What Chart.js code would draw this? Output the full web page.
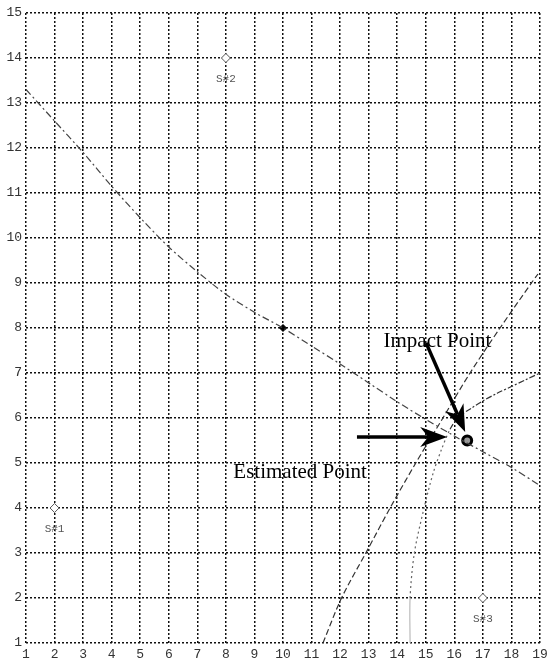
<!DOCTYPE html>
<html>
<head>
<meta charset="utf-8">
<script src="https://cdn.jsdelivr.net/npm/chart.js@4.4.1/dist/chart.umd.min.js"></script>
<style>
  html, body { margin: 0; padding: 0; background: #fff; }
</style>
</head>
<body>
<canvas id="myChart" width="552" height="664"></canvas>
<script>
// axis ranges / ticks
const xTicks = [1, 19];
const yTicks = [1, 15];

// hyperbola around sensor 2 (upper curve)
const hypTwoX = [1, 2, 3, 4, 5, 6, 7, 8, 9, 10, 11, 12, 13, 14, 15, 16, 17, 18, 19];
const hypTwoY = [13.3, 12.6, 11.9, 11.15, 10.45, 9.8, 9.25, 8.75, 8.35, 8.0, 7.6, 7.2, 6.78, 6.36, 5.97, 5.6, 5.25, 4.9, 4.5];

// steep curve from the bottom (sensor 1 side)
const hypOneX = [11.4, 12.05, 12.9, 13.75, 14.65, 15.6, 16.55, 17.6, 18.7, 18.93];
const hypOneY = [1, 2, 3, 4, 5, 6, 7, 8, 9, 9.2];

// hyperbola around sensor 3
const hypThreeX = [14.45, 14.45, 14.6, 14.94, 15.26, 15.55, 15.85, 16.15, 16.6, 17, 17.5, 18, 18.5, 19];
const hypThreeY = [1, 2, 3, 4, 4.78, 5.3, 5.75, 6.02, 6.22, 6.38, 6.55, 6.7, 6.85, 7.0];

// sensors
const sensorNames = ['S#1', 'S#2', 'S#3'];
const sensorX = [2, 8, 17];
const sensorY = [4, 14, 2];

// reference point and impact point
const refX = [10];
const refY = [8];
const impactX = [16.45];
const impactY = [5.5];

// annotations (data units)
const impactText = 'Impact Point';
const impactTextPos = [15.41, 7.71];
const impactArrow = [[15.01, 7.67], [16.38, 5.69]];
const estText = 'Estimated Point';
const estTextPos = [10.6, 4.8];
const estArrow = [[12.59, 5.58], [15.75, 5.58]];

const pts = (xs, ys) => xs.map((v, i) => ({x: v, y: ys[i]}));

function drawArrow(ctx, x0, y0, x1, y1) {
  const ang = Math.atan2(y1 - y0, x1 - x0);
  const len = 27, half = 10, notch = 8;
  const cos = Math.cos(ang), sin = Math.sin(ang);
  const bx = x1 - cos * len, by = y1 - sin * len;
  ctx.beginPath();
  ctx.moveTo(x0, y0);
  ctx.lineTo(x1 - cos * (len - notch), y1 - sin * (len - notch));
  ctx.lineWidth = 3.5;
  ctx.strokeStyle = '#000';
  ctx.stroke();
  ctx.beginPath();
  ctx.moveTo(x1, y1);
  ctx.lineTo(bx - sin * half, by + cos * half);
  ctx.lineTo(x1 - cos * (len - notch), y1 - sin * (len - notch));
  ctx.lineTo(bx + sin * half, by - cos * half);
  ctx.closePath();
  ctx.fillStyle = '#000';
  ctx.fill();
}

const annotate = {
  id: 'annotate',
  afterDatasetsDraw(chart) {
    const {ctx, scales: {x, y}} = chart;
    ctx.save();
    // sensor labels
    ctx.font = '11px "Liberation Mono"';
    ctx.fillStyle = '#555';
    ctx.textAlign = 'center';
    ctx.textBaseline = 'middle';
    sensorNames.forEach((n, i) => {
      ctx.fillText(n, x.getPixelForValue(sensorX[i]), y.getPixelForValue(sensorY[i]) + 21);
    });
    // arrows
    [impactArrow, estArrow].forEach(a => {
      drawArrow(ctx, x.getPixelForValue(a[0][0]), y.getPixelForValue(a[0][1]),
                     x.getPixelForValue(a[1][0]), y.getPixelForValue(a[1][1]));
    });
    // texts
    ctx.font = '21px "Liberation Serif"';
    ctx.fillStyle = '#000';
    ctx.fillText(impactText, x.getPixelForValue(impactTextPos[0]), y.getPixelForValue(impactTextPos[1]));
    ctx.fillText(estText, x.getPixelForValue(estTextPos[0]), y.getPixelForValue(estTextPos[1]));
    ctx.restore();
  }
};

const ctx = document.getElementById('myChart').getContext('2d');

const myChart = new Chart(ctx, {
  type: 'scatter',
  data: {
    datasets: [
      {
        data: pts(hypTwoX, hypTwoY),
        showLine: true,
        borderColor: '#444',
        borderWidth: 1.2,
        borderDash: [7, 3, 2, 3],
        tension: 0.3,
        pointRadius: 0
      },
      {
        data: pts(hypOneX, hypOneY),
        showLine: true,
        borderColor: '#333',
        borderWidth: 1.2,
        borderDash: [6, 3],
        tension: 0.3,
        pointRadius: 0
      },
      {
        data: pts(hypThreeX, hypThreeY),
        showLine: true,
        borderColor: '#666',
        borderWidth: 1.2,
        borderDash: [2, 3],
        tension: 0.3,
        pointRadius: 0,
        segment: {
          borderColor: c => c.p0DataIndex === 0 ? '#bbb' : (c.p0DataIndex >= 6 ? '#333' : undefined),
          borderDash: c => c.p0DataIndex === 0 ? [] : (c.p0DataIndex >= 6 ? [6, 2, 2, 2] : undefined)
        }
      },
      {
        data: pts(sensorX, sensorY),
        pointStyle: 'rectRot',
        pointRadius: 4.5,
        pointBackgroundColor: '#fff',
        pointBorderColor: '#555',
        pointBorderWidth: 1
      },
      {
        data: pts(refX, refY),
        pointStyle: 'rectRot',
        pointRadius: 3.5,
        pointBackgroundColor: '#000',
        pointBorderColor: '#000',
        pointBorderWidth: 1
      },
      {
        data: pts(impactX, impactY),
        pointStyle: 'circle',
        pointRadius: 4.5,
        pointBackgroundColor: '#999',
        pointBorderColor: '#000',
        pointBorderWidth: 3
      }
    ]
  },
  options: {
    responsive: false,
    animation: false,
    layout: { padding: { top: 13, right: 12, left: 0, bottom: 0 } },
    plugins: {
      legend: { display: false },
      tooltip: { enabled: false }
    },
    scales: {
      x: {
        type: 'linear',
        min: xTicks[0],
        max: xTicks[1],
        afterFit: s => { s.height = 21; },
        ticks: {
          stepSize: 1,
          padding: 4,
          color: '#333',
          font: { family: 'Liberation Mono', size: 13 }
        },
        grid: { color: '#111', lineWidth: 1.5, drawTicks: false },
        border: { display: false, dash: [2, 2] }
      },
      y: {
        type: 'linear',
        min: yTicks[0],
        max: yTicks[1],
        afterFit: s => { s.width = 26; },
        ticks: {
          stepSize: 1,
          padding: 4,
          color: '#333',
          font: { family: 'Liberation Mono', size: 13 }
        },
        grid: { color: '#111', lineWidth: 1.5, drawTicks: false },
        border: { display: false, dash: [2, 2] }
      }
    }
  },
  plugins: [annotate]
});
</script>
</body>
</html>
